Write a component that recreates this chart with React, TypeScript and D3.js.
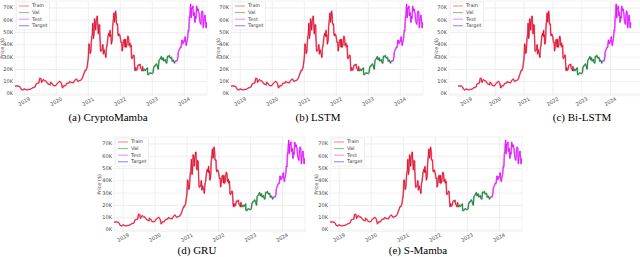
import React from "react";
import * as d3 from "d3";

// BTC daily close, sampled (USD)
const trainData: [string, number][] = [
  ["2018-09-17", 6300], ["2018-10-01", 6600], ["2018-10-15", 6500], ["2018-11-01", 6350],
  ["2018-11-14", 5700], ["2018-11-25", 3900], ["2018-12-07", 3400], ["2018-12-15", 3250],
  ["2018-12-24", 4000], ["2019-01-07", 4050], ["2019-01-20", 3550], ["2019-02-07", 3400],
  ["2019-02-24", 3800], ["2019-03-15", 3950], ["2019-04-02", 4900], ["2019-04-20", 5300],
  ["2019-05-05", 5750], ["2019-05-14", 8000], ["2019-05-30", 8600], ["2019-06-15", 8800],
  ["2019-06-26", 12900], ["2019-07-10", 12500], ["2019-07-17", 9400], ["2019-08-05", 11800],
  ["2019-08-20", 10800], ["2019-09-05", 10600], ["2019-09-25", 8400], ["2019-10-24", 7450],
  ["2019-10-27", 9550], ["2019-11-15", 8500], ["2019-11-25", 7000], ["2019-12-17", 6650],
  ["2019-12-31", 7200], ["2020-01-14", 8800], ["2020-02-12", 10350], ["2020-02-28", 8700],
  ["2020-03-12", 4900], ["2020-03-25", 6700], ["2020-04-15", 6650], ["2020-04-30", 8650],
  ["2020-05-10", 8750], ["2020-05-25", 8900], ["2020-06-02", 10150], ["2020-06-25", 9250],
  ["2020-07-15", 9200], ["2020-07-28", 11000], ["2020-08-17", 12250], ["2020-09-05", 10250],
  ["2020-09-20", 10900], ["2020-10-10", 11300], ["2020-10-25", 13000], ["2020-11-06", 15500],
  ["2020-11-24", 19150], ["2020-12-01", 18800], ["2020-12-16", 21300], ["2020-12-31", 29000],
  ["2021-01-08", 40800], ["2021-01-14", 39200], ["2021-01-22", 33000], ["2021-01-29", 34300],
  ["2021-02-08", 46400], ["2021-02-15", 48000], ["2021-02-21", 57500], ["2021-02-28", 45200],
  ["2021-03-06", 48900], ["2021-03-13", 61200], ["2021-03-20", 58100], ["2021-03-25", 52000],
  ["2021-04-01", 59000], ["2021-04-13", 63500], ["2021-04-18", 56200], ["2021-04-25", 49000],
  ["2021-05-03", 56600], ["2021-05-10", 56000], ["2021-05-12", 49000], ["2021-05-19", 37000],
  ["2021-05-23", 34700], ["2021-05-30", 35700], ["2021-06-06", 35800], ["2021-06-15", 40200],
  ["2021-06-22", 32500], ["2021-06-29", 36000], ["2021-07-06", 34200], ["2021-07-13", 32700],
  ["2021-07-20", 29800], ["2021-07-26", 37300], ["2021-08-02", 39200], ["2021-08-14", 47100],
  ["2021-08-23", 49500], ["2021-08-31", 47100], ["2021-09-06", 51800], ["2021-09-07", 46800],
  ["2021-09-15", 48100], ["2021-09-21", 40600], ["2021-09-30", 43800], ["2021-10-06", 55400],
  ["2021-10-15", 61500], ["2021-10-20", 66000], ["2021-10-27", 58500], ["2021-11-01", 61000],
  ["2021-11-08", 67500], ["2021-11-15", 63500], ["2021-11-18", 56900], ["2021-11-24", 57100],
  ["2021-11-30", 57000], ["2021-12-04", 49400], ["2021-12-10", 47300], ["2021-12-15", 48900],
  ["2021-12-22", 48600], ["2021-12-31", 46300], ["2022-01-05", 43500], ["2022-01-10", 41800],
  ["2022-01-17", 42200], ["2022-01-22", 35000], ["2022-01-28", 37700], ["2022-02-08", 44000],
  ["2022-02-15", 44500], ["2022-02-24", 38300], ["2022-03-01", 44400], ["2022-03-07", 38000],
  ["2022-03-15", 39300], ["2022-03-28", 47100], ["2022-04-05", 45500], ["2022-04-11", 39500],
  ["2022-04-20", 41500], ["2022-04-26", 38100], ["2022-05-04", 39700], ["2022-05-09", 30100],
  ["2022-05-12", 28900], ["2022-05-20", 29200], ["2022-05-31", 31800], ["2022-06-07", 31100],
  ["2022-06-13", 22500], ["2022-06-18", 19000], ["2022-06-25", 21500], ["2022-07-02", 19300],
  ["2022-07-13", 20000], ["2022-07-20", 23200], ["2022-07-30", 23800], ["2022-08-07", 23200],
  ["2022-08-14", 24300], ["2022-08-20", 21100], ["2022-08-31", 20000], ["2022-09-06", 18800],
  ["2022-09-12", 22400], ["2022-09-17", 20100],
];

const valData: [string, number][] = [
  ["2022-09-17", 20100], ["2022-09-25", 18800], ["2022-10-05", 20300], ["2022-10-15", 19100],
  ["2022-10-25", 20100], ["2022-11-05", 21300], ["2022-11-09", 15900], ["2022-11-21", 15800],
  ["2022-11-30", 17100], ["2022-12-10", 17100], ["2022-12-20", 16900], ["2022-12-31", 16550],
  ["2023-01-10", 17400], ["2023-01-15", 20900], ["2023-01-25", 23000], ["2023-02-05", 23000],
  ["2023-02-16", 24600], ["2023-02-25", 23100], ["2023-03-10", 20200], ["2023-03-18", 27400],
  ["2023-03-31", 28500], ["2023-04-14", 30500], ["2023-04-22", 27800], ["2023-05-05", 29500],
  ["2023-05-12", 26800], ["2023-05-28", 28100], ["2023-06-05", 25700], ["2023-06-15", 25100],
  ["2023-06-23", 30700], ["2023-07-05", 30500], ["2023-07-13", 31400], ["2023-07-24", 29200],
  ["2023-08-08", 29800], ["2023-08-17", 26600], ["2023-08-29", 27700], ["2023-09-11", 25100],
  ["2023-09-17", 26500],
];

const testData: [string, number][] = [
  ["2023-09-17", 26500], ["2023-09-30", 27000], ["2023-10-11", 26900], ["2023-10-20", 29700],
  ["2023-10-24", 33900], ["2023-11-09", 36700], ["2023-11-15", 37900], ["2023-11-25", 37700],
  ["2023-12-05", 44000], ["2023-12-12", 41200], ["2023-12-18", 41000], ["2023-12-27", 43400],
  ["2024-01-03", 42800], ["2024-01-11", 46600], ["2024-01-18", 41300], ["2024-01-23", 39500],
  ["2024-01-31", 42600], ["2024-02-08", 45300], ["2024-02-15", 51900], ["2024-02-22", 51300],
  ["2024-02-28", 62500], ["2024-03-05", 63800], ["2024-03-08", 68300], ["2024-03-13", 73100],
  ["2024-03-19", 62000], ["2024-03-25", 69900], ["2024-04-01", 69600], ["2024-04-08", 71600],
  ["2024-04-13", 64000], ["2024-04-19", 63800], ["2024-04-23", 66400], ["2024-05-01", 58300],
  ["2024-05-06", 63200], ["2024-05-14", 61600], ["2024-05-21", 71400], ["2024-05-31", 67500],
  ["2024-06-07", 69300], ["2024-06-18", 65100], ["2024-06-24", 60300], ["2024-07-04", 57000],
  ["2024-07-08", 56700], ["2024-07-15", 64800], ["2024-07-22", 67600], ["2024-07-29", 66800],
  ["2024-08-05", 54000], ["2024-08-12", 59400], ["2024-08-24", 64200], ["2024-08-30", 59100],
  ["2024-09-06", 53900], ["2024-09-12", 58100], ["2024-09-16", 58200],
];

const models = ["(a) CryptoMamba", "(b) LSTM", "(c) Bi-LSTM", "(d) GRU", "(e) S-Mamba"];
const yTicks = [0, 10000, 20000, 30000, 40000, 50000, 60000, 70000];
const yearTicks = [2019, 2020, 2021, 2022, 2023, 2024];
const legendItems = [
  { label: "Train", color: "#ff0000" },
  { label: "Val", color: "#008000" },
  { label: "Test", color: "#ff00ff" },
  { label: "Target", color: "#0000ff" },
];

// panel layout: data x-range, plot rect, y of 0K, caption centre
const panels = [
  { x0: 15, x1: 207, left: 15, right: 207, y0: 94, ylab: 3, cap: 108 },
  { x0: 231, x1: 423, left: 231, right: 423, y0: 94, ylab: 219, cap: 318 },
  { x0: 458, x1: 631, left: 449, right: 646, y0: 94, ylab: 437, cap: 582 },
  { x0: 114, x1: 305, left: 114, right: 305, y0: 230, ylab: 100, cap: 197 },
  { x0: 330, x1: 522, left: 330, right: 522, y0: 230, ylab: 317, cap: 418 },
];

const parse = d3.timeParse("%Y-%m-%d");
const toPts = (arr: [string, number][]) => arr.map(([d, v]) => ({ date: parse(d)!, value: v }));
const train = toPts(trainData);
const val = toPts(valData);
const test = toPts(testData);
const target = [...train, ...val.slice(1), ...test.slice(1)];

const tickFont = "DejaVu Sans, sans-serif";

function Panel({ p, title }: { p: (typeof panels)[number]; title: string }) {
  const x = d3
    .scaleTime()
    .domain([train[0].date, test[test.length - 1].date])
    .range([p.x0, p.x1]);
  const y = d3.scaleLinear().domain([0, 70000]).range([p.y0, p.y0 - 86]);
  const top = p.y0 - 93;
  const bottom = p.y0 + 1.8;
  const line = d3
    .line<{ date: Date; value: number }>()
    .x((d) => x(d.date))
    .y((d) => y(d.value));
  const series = [
    { pts: train, color: legendItems[0].color },
    { pts: val, color: legendItems[1].color },
    { pts: test, color: legendItems[2].color },
  ];
  const clipId = `clip-${p.left}-${p.y0}`;
  return (
    <g>
      <clipPath id={clipId}>
        <rect x={p.left} y={top} width={p.right - p.left} height={bottom - top} />
      </clipPath>
      <rect x={p.left} y={top} width={p.right - p.left} height={bottom - top} fill="#fff" stroke="#ebebeb" strokeWidth={0.6} />
      {yTicks.map((t) => (
        <line key={t} x1={p.left} x2={p.right} y1={y(t)} y2={y(t)} stroke="#e4e4e4" strokeWidth={0.6} />
      ))}
      {yearTicks.map((yr) => {
        const xx = x(new Date(yr, 0, 1));
        return <line key={yr} x1={xx} x2={xx} y1={top} y2={bottom} stroke="#e4e4e4" strokeWidth={0.6} />;
      })}
      <g clipPath={`url(#${clipId})`}>
        {series.map((s, i) => (
          <path key={`h${i}`} d={line(s.pts) ?? ""} fill="none" stroke={s.color} strokeWidth={1.9} strokeOpacity={0.3} strokeLinejoin="round" />
        ))}
        <path d={line(target) ?? ""} fill="none" stroke="#0000ff" strokeWidth={0.9} strokeOpacity={0.35} />
        {series.map((s, i) => (
          <path key={`c${i}`} d={line(s.pts) ?? ""} fill="none" stroke={s.color} strokeWidth={0.8} strokeOpacity={0.85} strokeLinejoin="round" />
        ))}
      </g>
      {yTicks.map((t) => (
        <text key={t} x={p.left - 2} y={y(t)} fontSize={5} fontFamily={tickFont} fill="#444" textAnchor="end" dominantBaseline="middle">
          {`${t / 1000}K`}
        </text>
      ))}
      {yearTicks.map((yr) => {
        const xx = x(new Date(yr, 0, 1));
        const yy = bottom + 6;
        return (
          <text key={yr} x={xx} y={yy} fontSize={5} fontFamily={tickFont} fill="#444" textAnchor="middle" dominantBaseline="middle" transform={`rotate(-30 ${xx} ${yy})`}>
            {yr}
          </text>
        );
      })}
      <text x={p.ylab} y={(top + bottom) / 2} fontSize={5} fontFamily={tickFont} fill="#444" textAnchor="middle" dominantBaseline="middle" transform={`rotate(-90 ${p.ylab} ${(top + bottom) / 2})`}>
        Price ($)
      </text>
      <rect x={p.left + 1.5} y={top + 1} width={33} height={28} fill="#fff" fillOpacity={0.8} stroke="#e0e0e0" strokeWidth={0.5} rx={1} />
      {legendItems.map((it, i) => {
        const ly = top + 5 + i * 6.6;
        return (
          <g key={it.label}>
            <line x1={p.left + 4} x2={p.left + 14} y1={ly} y2={ly} stroke={it.color} strokeOpacity={0.5} strokeWidth={1} />
            <text x={p.left + 17} y={ly} fontSize={5} fontFamily={tickFont} fill="#444" dominantBaseline="middle">
              {it.label}
            </text>
          </g>
        );
      })}
      <text x={p.cap} y={p.y0 + (p.y0 > 100 ? 24 : 27)} fontSize={11} fontFamily="Liberation Serif, serif" fill="#000" textAnchor="middle">
        {title}
      </text>
    </g>
  );
}

export default function App() {
  return (
    <svg width={640} height={257} style={{ position: "absolute", left: 0, top: 0 }}>
      <rect width={640} height={257} fill="#fff" />
      {panels.map((p, i) => (
        <Panel key={i} p={p} title={models[i]} />
      ))}
    </svg>
  );
}
